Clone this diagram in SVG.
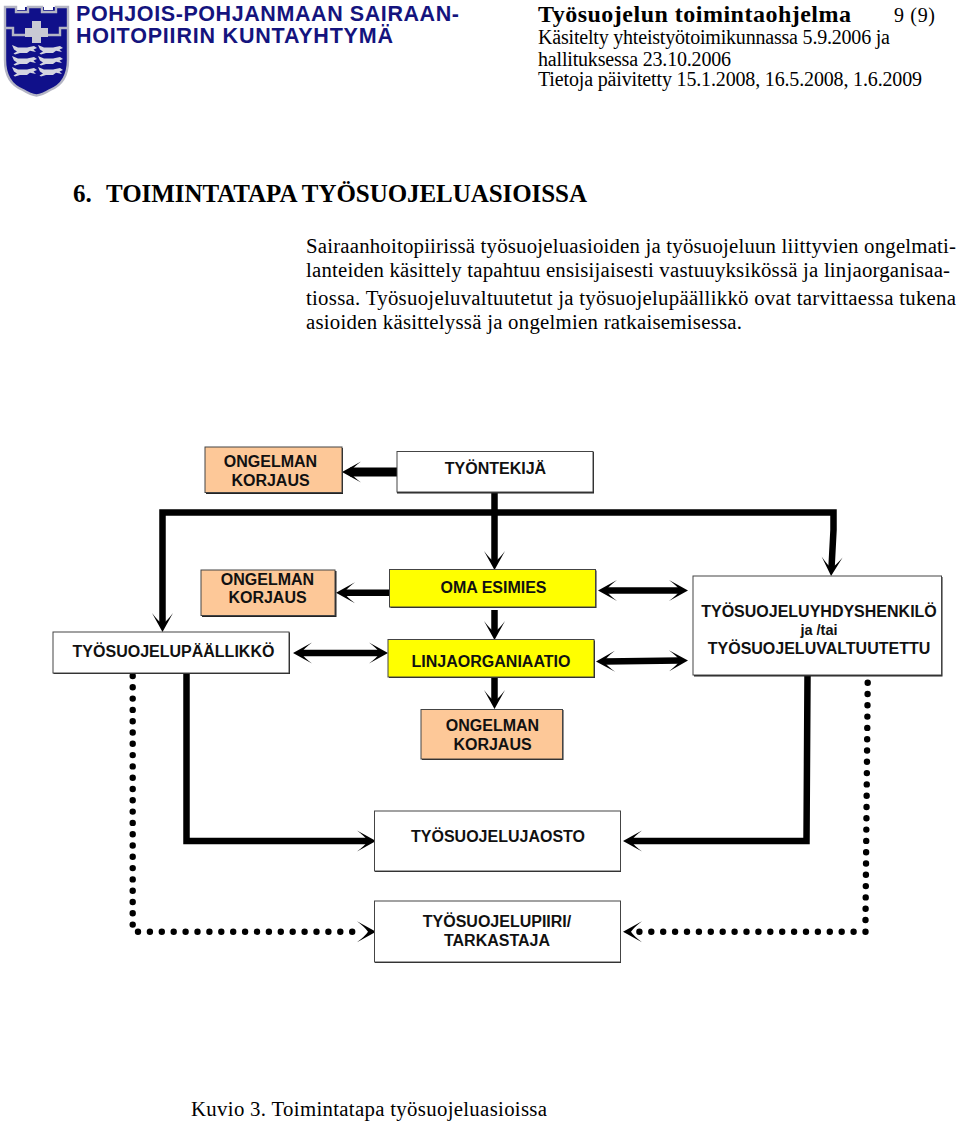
<svg xmlns="http://www.w3.org/2000/svg" width="960" height="1121" viewBox="0 0 960 1121">
<style>
text{font-family:"Liberation Serif","Times New Roman",serif;fill:#000}
.s{font-size:20px}
.t{font-size:20.800px}
.m{font-size:25px;font-weight:bold}
.h{font-family:"Liberation Sans",Arial,sans-serif;font-weight:bold;font-size:21.500px;fill:#14147e}
.n{font-family:"Liberation Sans",Arial,sans-serif;font-weight:bold;font-size:16px;text-anchor:middle;fill:#111}
.sh{fill:#222}
.b{stroke:#444;stroke-width:1}
.w{fill:#fff}.o{fill:#fdc898}.y{fill:#ffff00}
.c{fill:none;stroke:#000;stroke-width:6.500}
.d{fill:none;stroke:#000;stroke-width:6.400;stroke-linecap:round}
.an{fill:#d4d5e0}
.gb{fill:none;stroke:#b4b5c4;stroke-width:2.400}
</style>
<defs>
<marker id="ah" markerUnits="userSpaceOnUse" markerWidth="26" markerHeight="26" viewBox="-22 -13 26 26" refX="-8" refY="0" orient="auto-start-reverse" overflow="visible">
<path d="M0 0L-19 -10.500Q-11 -4.500 -8 0Q-11 4.500 -19 10.500Z" fill="#000"/>
</marker>
<path id="beast" d="M0 0L6 2.500H15L22 1L25 3L21.500 4.500L24 7L18 5.800L15 8H8L3 9.500L1.500 8.500L5 6.500L2 4.500Z"/>
</defs>
<rect width="960" height="1121" fill="#fff"/>
<g id="crest">
<path d="M5 7H16V10H25V7H44V10H53V7H68V60Q68 83 50 90Q42 95 36.500 95.500Q31 95 23 90Q5 83 5 60Z" fill="#10108a"/>
<path class="gb" d="M5 7H16V12H28V7H42V12H56V7H68V60Q68 83 50 90Q42 95 36.500 95.500Q31 95 23 90Q5 83 5 60Z"/>
<path class="gb" d="M5 28H13V35H25M48 35H60V28H68"/>
<path d="M32 21H41V28H48V37H41V43H32V37H25V28H32Z" fill="#c8c9d4"/>
<use href="#beast" class="an" x="12" y="45"/>
<use href="#beast" class="an" x="12" y="56"/>
<use href="#beast" class="an" x="12" y="67"/>
<use href="#beast" class="an" x="38" y="45"/>
<use href="#beast" class="an" x="38" y="56"/>
<use href="#beast" class="an" x="38" y="67"/>
</g>
<g id="header">
<text class="h" x="76" y="21" textLength="383">POHJOIS-POHJANMAAN SAIRAAN-</text>
<text class="h" x="76" y="43" textLength="317">HOITOPIIRIN KUNTAYHTYMÄ</text>
<text x="538" y="22" font-size="24" font-weight="bold" textLength="313">Työsuojelun toimintaohjelma</text>
<text class="s" x="894" y="22" textLength="41">9 (9)</text>
<text class="s" x="538" y="44" textLength="352">Käsitelty yhteistyötoimikunnassa 5.9.2006 ja</text>
<text class="s" x="538" y="66" textLength="193">hallituksessa 23.10.2006</text>
<text class="s" x="538" y="86" textLength="384">Tietoja päivitetty 15.1.2008, 16.5.2008, 1.6.2009</text>
</g>
<g id="body">
<text class="m" x="73" y="202">6.</text>
<text class="m" x="106" y="202" textLength="481">TOIMINTATAPA TYÖSUOJELUASIOISSA</text>
<text class="t" x="306" y="253" textLength="650">Sairaanhoitopiirissä työsuojeluasioiden ja työsuojeluun liittyvien ongelmati-</text>
<text class="t" x="306" y="277" textLength="644">lanteiden käsittely tapahtuu ensisijaisesti vastuuyksikössä ja linjaorganisaa-</text>
<text class="t" x="306" y="305" textLength="650">tiossa. Työsuojeluvaltuutetut ja työsuojelupäällikkö ovat tarvittaessa tukena</text>
<text class="t" x="306" y="329" textLength="436">asioiden käsittelyssä ja ongelmien ratkaisemisessa.</text>
<text class="t" x="191" y="1116" textLength="356">Kuvio 3. Toimintatapa työsuojeluasioissa</text>
</g>
<g id="connectors">
<path class="c" style="stroke-width:9" d="M397 472H350" marker-end="url(#ah)"/>
<path class="c" d="M494.500 493V562" marker-end="url(#ah)"/>
<path class="c" d="M494.500 512.500H162.500V624" marker-end="url(#ah)"/>
<path class="c" d="M494.500 512.500H833.500V530L831.500 568" marker-end="url(#ah)"/>
<path class="c" d="M390 592.700H344" marker-end="url(#ah)"/>
<path class="c" d="M494.500 610V632" marker-end="url(#ah)"/>
<path class="c" d="M494.500 678V701" marker-end="url(#ah)"/>
<path class="c" d="M301 653H380" marker-start="url(#ah)" marker-end="url(#ah)"/>
<path class="c" d="M606 590.500H680" marker-start="url(#ah)" marker-end="url(#ah)"/>
<path class="c" d="M604 661.500L680 660.500" marker-start="url(#ah)" marker-end="url(#ah)"/>
<path class="c" d="M186.500 673V841H368" marker-end="url(#ah)"/>
<path class="c" d="M807.500 676L806.500 841H631" marker-end="url(#ah)"/>
<path class="d" stroke-dasharray="0 11.300" d="M132.700 676V925"/>
<path class="d" stroke-dasharray="0 11.900" d="M138 931.700H353"/>
<path class="c" style="stroke-width:0" d="M352 931.700H368" marker-end="url(#ah)"/>
<path class="d" stroke-dasharray="0 11.300" d="M867.700 682.700L865.500 920"/>
<path class="d" stroke-dasharray="0 11.900" d="M865.500 931.700H639"/>
<path class="c" style="stroke-width:0" d="M645 931.700H631" marker-end="url(#ah)"/>
</g>
<g id="n-korjaus1"><rect class="sh" x="206" y="448" width="137" height="46"/><rect class="o b" x="205" y="447" width="137" height="45.500"/><text class="n" x="270.500" y="467">ONGELMAN</text><text class="n" x="270.500" y="485.500">KORJAUS</text></g>
<g id="n-tyontekija"><rect class="sh" x="397" y="452" width="197" height="41.500"/><rect class="w b" x="397" y="451.500" width="196" height="40.500"/><text class="n" x="495.500" y="474">TYÖNTEKIJÄ</text></g>
<g id="n-korjaus2"><rect class="sh" x="202" y="571" width="134.500" height="46"/><rect class="o b" x="201" y="570" width="134" height="45.500"/><text class="n" x="267.500" y="584.500">ONGELMAN</text><text class="n" x="267.500" y="602.500">KORJAUS</text></g>
<g id="n-esimies"><rect class="sh" x="390.500" y="570.500" width="206" height="37.500"/><rect class="y b" x="389.500" y="569.500" width="206" height="37.500"/><text class="n" x="493.500" y="592.700">OMA ESIMIES</text></g>
<g id="n-linja"><rect class="sh" x="389" y="640.500" width="206" height="37.500"/><rect class="y b" x="388" y="639.500" width="206" height="37.500"/><text class="n" x="491" y="666.500">LINJAORGANIAATIO</text></g>
<g id="n-paallikko"><rect class="sh" x="53.500" y="632.500" width="236.500" height="41.500"/><rect class="w b" x="53" y="632" width="236" height="41"/><text class="n" x="173.500" y="657">TYÖSUOJELUPÄÄLLIKKÖ</text></g>
<g id="n-yhdyshenkilo"><rect class="sh" x="694" y="577" width="248.500" height="99.500"/><rect class="w b" x="693" y="576" width="248.500" height="99"/><text class="n" x="819" y="616.700">TYÖSUOJELUYHDYSHENKILÖ</text><text class="n" x="819" y="635" style="font-size:14.500px">ja /tai</text><text class="n" x="819" y="654">TYÖSUOJELUVALTUUTETTU</text></g>
<g id="n-korjaus3"><rect class="sh" x="422" y="710" width="141.500" height="50"/><rect class="o b" x="421" y="709.500" width="141.500" height="49.500"/><text class="n" x="492.500" y="731">ONGELMAN</text><text class="n" x="492.500" y="750">KORJAUS</text></g>
<g id="n-jaosto"><rect class="sh" x="375" y="812" width="246" height="60"/><rect class="w b" x="374.500" y="811" width="246" height="60"/><text class="n" x="498" y="841.700">TYÖSUOJELUJAOSTO</text></g>
<g id="n-piiri"><rect class="sh" x="375" y="902" width="246" height="61"/><rect class="w b" x="374.500" y="901" width="246" height="61"/><text class="n" x="497" y="926.700">TYÖSUOJELUPIIRI/</text><text class="n" x="497" y="945.500">TARKASTAJA</text></g>
</svg>
